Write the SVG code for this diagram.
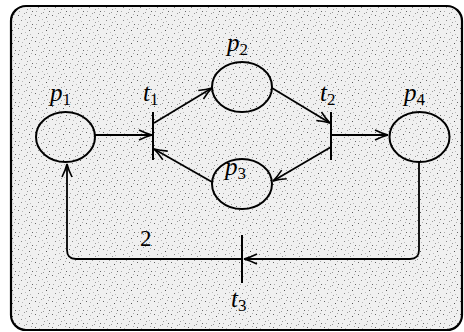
<svg xmlns="http://www.w3.org/2000/svg" width="464" height="332" viewBox="0 0 464 332">
<style>
.pl{fill:none;stroke:#000;stroke-width:2}
.ar{fill:none;stroke:#000;stroke-width:1.8}
.bar{stroke:#000;stroke-width:2}
.lb{font-family:"Liberation Serif",serif;font-style:italic;font-size:25px;fill:#000}
.sb{font-family:"Liberation Serif",serif;font-style:normal;font-size:17px}
.num{font-family:"Liberation Serif",serif;font-size:23px;fill:#000}
</style>
<defs>
<pattern id="st" width="17" height="13" patternUnits="userSpaceOnUse">
<rect width="17" height="13" fill="#f0f0f0"/>
<rect x="1" y="2" width="1" height="1" fill="#666"/>
<rect x="7" y="0" width="1" height="1" fill="#999"/>
<rect x="12" y="4" width="1" height="1" fill="#555"/>
<rect x="4" y="7" width="1" height="1" fill="#888"/>
<rect x="10" y="9" width="1" height="1" fill="#999"/>
<rect x="15" y="11" width="1" height="1" fill="#666"/>
<rect x="2" y="11" width="1" height="1" fill="#aaa"/>
<rect x="14" y="1" width="1" height="1" fill="#aaa"/>
<rect x="8" y="6" width="1" height="1" fill="#bbb"/>
<rect x="5" y="3" width="1" height="1" fill="#bbb"/>
<rect x="13" y="8" width="1" height="1" fill="#bbb"/>
<rect x="9" y="12" width="1" height="1" fill="#999"/>
</pattern>
<marker id="ah" markerWidth="16" markerHeight="12" viewBox="-14 -6 16 12" refX="0" refY="0" orient="auto" markerUnits="userSpaceOnUse">
<path d="M-13,-5 Q-6,-1.5 0,0 Q-6,1.5 -13,5" fill="none" stroke="#000" stroke-width="1.6"/>
</marker>
</defs>
<rect id="frame" x="11" y="6" width="451" height="324" rx="15" ry="15" fill="url(#st)" stroke="#000" stroke-width="2.2"/>
<g id="connectors">
<line class="ar" x1="95" y1="135" x2="152" y2="135" marker-end="url(#ah)"/>
<line class="ar" x1="154" y1="123" x2="212" y2="88" marker-end="url(#ah)"/>
<line class="ar" x1="272" y1="88" x2="330" y2="123" marker-end="url(#ah)"/>
<line class="ar" x1="331" y1="135" x2="388" y2="135" marker-end="url(#ah)"/>
<line class="ar" x1="331" y1="147" x2="273" y2="181" marker-end="url(#ah)"/>
<line class="ar" x1="212" y1="182" x2="154" y2="149" marker-end="url(#ah)"/>
<path class="ar" d="M419,162 V250 Q419,259 410,259 H244" marker-end="url(#ah)"/>
<path class="ar" d="M242,259 H76 Q67,259 67,250 V164" marker-end="url(#ah)"/>
<text class="num" x="140" y="246">2</text>
</g>
<g id="p1"><ellipse class="pl" cx="65.5" cy="137" rx="29.5" ry="25"/><text class="lb" x="50" y="101">p<tspan class="sb" dy="4">1</tspan></text></g>
<g id="p2"><ellipse class="pl" cx="242" cy="87" rx="30" ry="25"/><text class="lb" x="227" y="51">p<tspan class="sb" dy="4">2</tspan></text></g>
<g id="p3"><ellipse class="pl" cx="242" cy="184" rx="30" ry="25"/><text class="lb" x="225" y="175">p<tspan class="sb" dy="4">3</tspan></text></g>
<g id="p4"><ellipse class="pl" cx="419.5" cy="137" rx="30" ry="25"/><text class="lb" x="404" y="101">p<tspan class="sb" dy="4">4</tspan></text></g>
<g id="t1"><line class="bar" x1="153" y1="112" x2="153" y2="160"/><text class="lb" x="143" y="101">t<tspan class="sb" dy="4">1</tspan></text></g>
<g id="t2"><line class="bar" x1="331" y1="112" x2="331" y2="160"/><text class="lb" x="320" y="101">t<tspan class="sb" dy="4">2</tspan></text></g>
<g id="t3"><line class="bar" x1="242" y1="235" x2="242" y2="283"/><text class="lb" x="231" y="307">t<tspan class="sb" dy="4">3</tspan></text></g>
</svg>
